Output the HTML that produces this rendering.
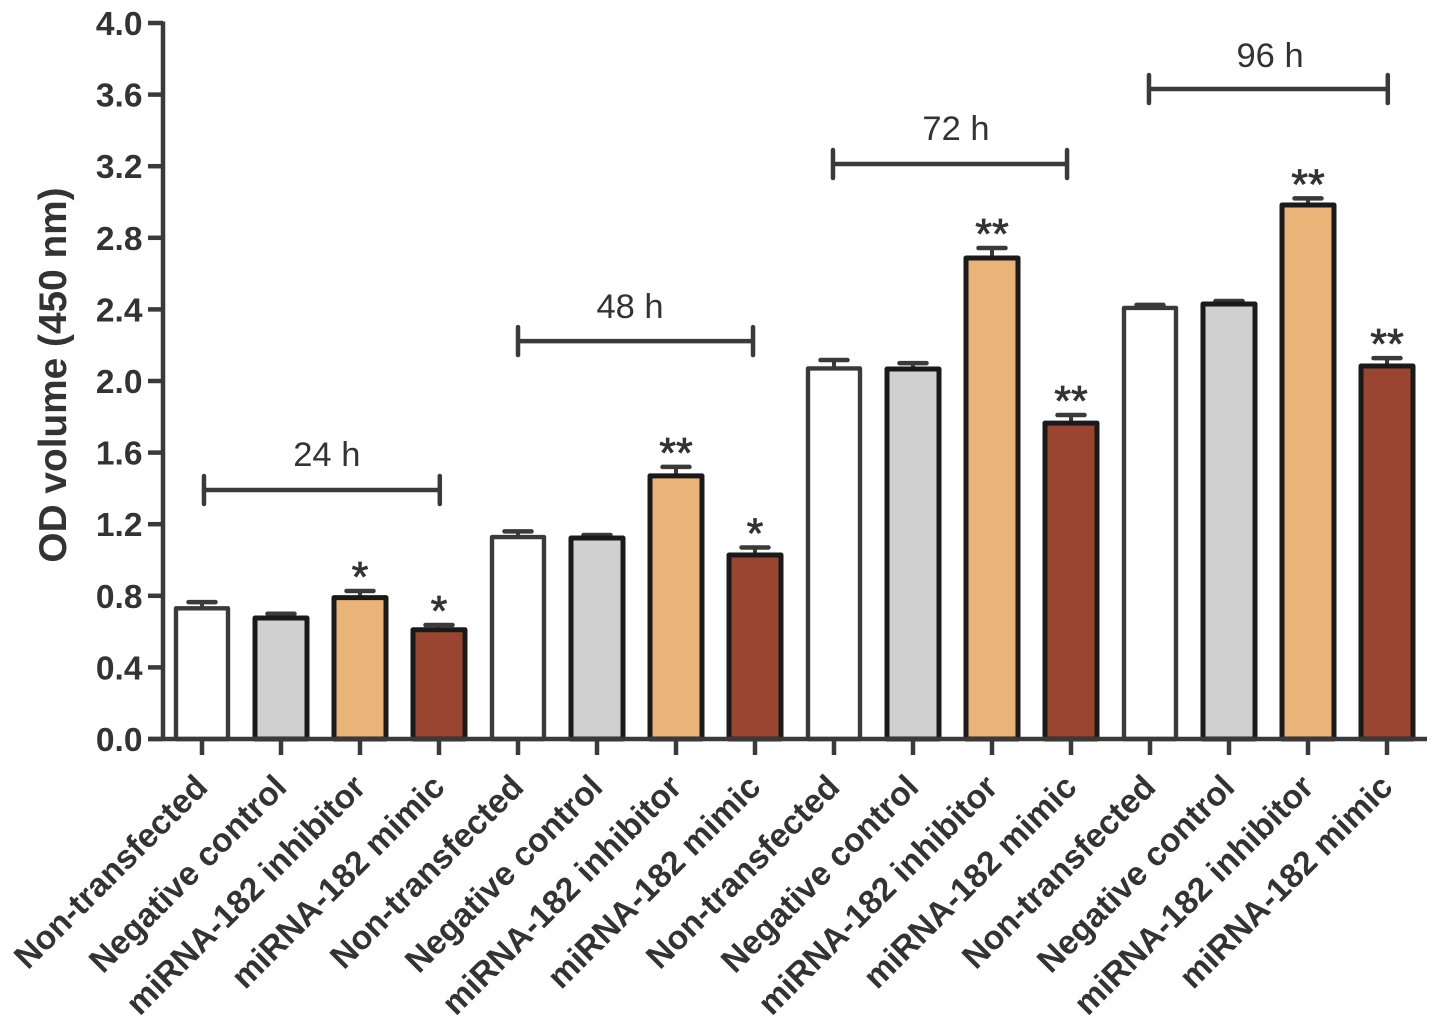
<!DOCTYPE html>
<html>
<head>
<meta charset="utf-8">
<title>OD volume chart</title>
<style>
html,body{margin:0;padding:0;background:#fff;}
svg{display:block;}
text{font-family:"Liberation Sans",Arial,sans-serif;fill:#333;}
</style>
</head>
<body>
<svg id="chart" width="1441" height="1026" viewBox="0 0 1441 1026" xmlns="http://www.w3.org/2000/svg">
<text transform="translate(66,375) rotate(-90)" text-anchor="middle" font-size="38.8" font-weight="bold">OD volume (450 nm)</text>
</svg>
<script>
const categories = ["Non-transfected","Negative control","miRNA-182 inhibitor","miRNA-182 mimic","Non-transfected","Negative control","miRNA-182 inhibitor","miRNA-182 mimic","Non-transfected","Negative control","miRNA-182 inhibitor","miRNA-182 mimic","Non-transfected","Negative control","miRNA-182 inhibitor","miRNA-182 mimic"];
const values = [0.73,0.676,0.79,0.61,1.128,1.123,1.47,1.028,2.07,2.067,2.687,1.765,2.408,2.43,2.983,2.084];
const errorTops = [0.765,0.70,0.827,0.637,1.16,1.14,1.52,1.07,2.117,2.10,2.743,1.81,2.425,2.447,3.02,2.128];
const significance = ["","","*","*","","","**","*","","","**","**","","","**","**"];
const yTicks = [0,0.4,0.8,1.2,1.6,2.0,2.4,2.8,3.2,3.6,4.0];
const groupLabels = ["24 h","48 h","72 h","96 h"];
const groupStart = [0.025,4.0,7.987,11.987];
const groupEnd = [3.01,6.975,10.95,15.01];
const groupLevels = [1.391,2.223,3.212,3.631];
const groupLabelCenters = [1.58,5.418,9.544,13.52];
const groupLabelLevels = [1.525,2.352,3.346,3.754];

const fills = ["#ffffff","#d0d0d0","#eab378","#9a4530"];
const strokes = ["#3a3a3a","#1a1a1a","#1a1a1a","#1a1a1a"];
const strokeWidths = [4.4,5,5,5];
const svg = document.getElementById('chart');
const NS = 'http://www.w3.org/2000/svg';
const axisColor = '#3a3a3a';
function yScale(v){ return 739 - v * 179; }
function xScale(i){ return 202 + i * 79; }
function make(tag, attrs, parent){
  const el = document.createElementNS(NS, tag);
  for (const k in attrs) el.setAttribute(k, attrs[k]);
  (parent || svg).appendChild(el);
  return el;
}

categories.forEach(function(cat, i){
  const x = xScale(i), top = yScale(values[i]), et = yScale(errorTops[i]);
  const k = i % 4;
  const stem = make('line', {x1:x, x2:x, y1:top, y2:et, stroke:axisColor, 'stroke-width':4});
  
  
  const cap = make('line', {x1:x-13.5, x2:x+13.5, y1:et, y2:et, stroke:axisColor, 'stroke-width':4.5, 'stroke-linecap':'round'});
  
  
  const bar = make('rect', {x:x-26, y:top, width:52, height:yScale(0)-top, fill:fills[k], stroke:strokes[k], 'stroke-width':strokeWidths[k], 'stroke-linejoin':'round'});
  
  
  if (significance[i]) {
    const star = make('text', {x:x, y:et+0.5, 'text-anchor':'middle', 'font-size':43, stroke:'#333', 'stroke-width':0.8});
    star.textContent = significance[i];
    
    
  }
  const tick = make('line', {x1:x, x2:x, y1:739, y2:755, stroke:axisColor, 'stroke-width':4.5});
  
  
  const label = make('text', {transform:'translate('+(x+7.5)+',789) rotate(-45)', 'text-anchor':'end', 'font-size':33.5, 'font-weight':'bold'});
  label.textContent = cat;
  
  
});

const yAxis = make('line', {x1:163, x2:163, y1:21.5, y2:741, stroke:axisColor, 'stroke-width':4.5});


const xAxis = make('line', {x1:148, x2:1427, y1:739, y2:739, stroke:axisColor, 'stroke-width':4.5});



yTicks.forEach(function(t){
  const y = yScale(t);
  const tick = make('line', {x1:148, x2:163, y1:y, y2:y, stroke:axisColor, 'stroke-width':4.5});
  
  
  const lab = make('text', {x:142.5, y:y+12, 'text-anchor':'end', 'font-size':33.5, 'font-weight':'bold'});
  lab.textContent = t.toFixed(1);
  
  
});

groupLabels.forEach(function(g, i){
  const x1 = xScale(groupStart[i]), x2 = xScale(groupEnd[i]), y = yScale(groupLevels[i]);
  const span = make('line', {x1:x1, x2:x2, y1:y, y2:y, stroke:axisColor, 'stroke-width':4.5});
  
  
  [x1, x2].forEach(function(x){
    const end = make('line', {x1:x, x2:x, y1:y-14, y2:y+14, stroke:axisColor, 'stroke-width':4.5, 'stroke-linecap':'round'});
    
    
  });
  const lab = make('text', {x:xScale(groupLabelCenters[i]), y:yScale(groupLabelLevels[i]), 'text-anchor':'middle', 'font-size':34.5});
  lab.textContent = g;
  
  
});
</script>
</body>
</html>
